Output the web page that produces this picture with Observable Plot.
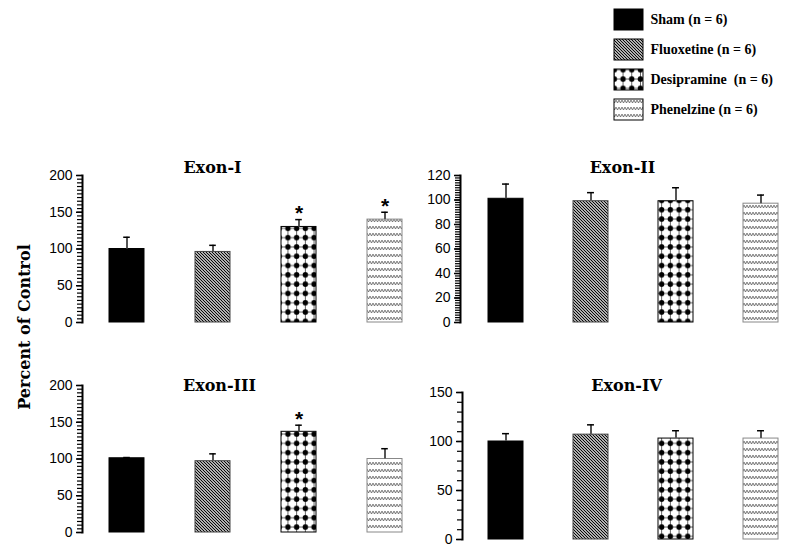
<!DOCTYPE html>
<html><head><meta charset="utf-8">
<script src="https://cdn.jsdelivr.net/npm/d3@7"></script>
<script src="https://cdn.jsdelivr.net/npm/@observablehq/plot@0.6"></script>
<style>
html,body{margin:0;padding:0;background:#fff;}
#root{position:relative;width:800px;height:549px;overflow:hidden;background:#fff;}
#root > .pane{position:absolute;}
#root svg{display:block;}
.ylab{position:absolute;left:24px;top:327px;transform:translate(-50%,-50%) rotate(-90deg);font:bold 16px "DejaVu Serif";white-space:nowrap;color:#000;}
</style></head>
<body>
<svg width="0" height="0" style="position:absolute">
<defs>
<pattern id="pat-fluox" patternUnits="userSpaceOnUse" width="3" height="3">
 <rect width="3" height="3" fill="white"/>
 <path d="M-1,-1 L4,4 M-1,2 L1,4 M2,-1 L4,1" stroke="black" stroke-width="1.2"/>
</pattern>
<pattern id="pat-desip" patternUnits="userSpaceOnUse" width="8.7" height="9.3">
 <rect width="8.7" height="9.3" fill="white"/>
 <path d="M0,4.65 H8.7 M4.35,0 V9.3" stroke="black" stroke-width="0.6"/>
 <circle cx="4.35" cy="4.65" r="2.7" fill="black"/>
</pattern>
<pattern id="pat-phen" patternUnits="userSpaceOnUse" width="3" height="7">
 <rect width="3" height="7" fill="white"/>
 <path d="M0,2 L1.5,5 L3,2" stroke="#666" stroke-width="0.9" fill="none"/>
</pattern>
</defs></svg>
<div id="root"><div class="ylab"></div></div>
<script>
// ---- data ----
const treatments = ["Sham", "Fluoxetine", "Desipramine", "Phenelzine"];
const legendLabels = ["Sham (n = 6)", "Fluoxetine (n = 6)", "Desipramine  (n = 6)", "Phenelzine (n = 6)"];
const exonTitles = ["Exon-I", "Exon-II", "Exon-III", "Exon-IV"];
const yLabel = "Percent of Control";

const exonIMean = [100, 96, 130, 140];
const exonIErr  = [16, 9, 10, 10];
const exonISig  = [false, false, true, true];

const exonIIMean = [101, 99, 99, 97];
const exonIIErr  = [12, 7, 11, 7];
const exonIISig  = [false, false, false, false];

const exonIIIMean = [101, 97, 137, 100];
const exonIIIErr  = [1, 10, 9, 14];
const exonIIISig  = [false, false, true, false];

const exonIVMean = [100, 107, 103, 103];
const exonIVErr  = [8, 10, 8, 8];
const exonIVSig  = [false, false, false, false];

const exonITicks   = [0, 50, 100, 150, 200];
const exonIITicks  = [0, 20, 40, 60, 80, 100, 120];
const exonIIITicks = [0, 50, 100, 150, 200];
const exonIVTicks  = [0, 50, 100, 150];

// ---- styles ----
const patternFills = ["black", "url(#pat-fluox)", "url(#pat-desip)", "url(#pat-phen)"];
const outlineColors = ["black", "#444", "black", "#888"];
const baseStyle = {background: "transparent", overflow: "visible", fontFamily: "'Liberation Sans', Arial, sans-serif", fontSize: "14px", color: "black"};
const colorScale = {type: "ordinal", domain: treatments, range: patternFills};

const root = document.getElementById("root");
root.querySelector(".ylab").textContent = yLabel;

function place(node, left, top) {
  const d = document.createElement("div");
  d.className = "pane";
  d.style.left = left + "px";
  d.style.top = top + "px";
  d.appendChild(node);
  root.appendChild(d);
}

function panel(cfg) {
  const data = treatments.map((t, i) => ({t, mean: cfg.mean[i], err: cfg.err[i], sig: cfg.sig[i]}));
  const pInner = 0.59;
  const step = (cfg.xr[1] - cfg.xr[0]) / treatments.length;
  const bw = step * (1 - pInner);
  const capInset = (bw - 7) / 2;
  const ymax = cfg.ticks[cfg.ticks.length - 1];
  const minor = d3.range(0, ymax + 0.001, cfg.minorStep);
  const frameW = cfg.w - cfg.ml;
  const minorLen = 5;
  return Plot.plot({
    width: cfg.w, height: cfg.h,
    marginLeft: cfg.ml, marginTop: cfg.mt, marginBottom: cfg.mb, marginRight: 0,
    x: {domain: treatments, range: cfg.xr, paddingInner: pInner, paddingOuter: pInner / 2, axis: null},
    y: {domain: [0, ymax], label: null},
    color: colorScale,
    style: baseStyle,
    marks: [
      Plot.barY(data, {x: "t", y: "mean", fill: "t"}),
      ...treatments.map((t, i) => Plot.barY(data.filter(d => d.t === t), {x: "t", y: "mean", fill: "none", stroke: outlineColors[i], strokeWidth: 1})),
      Plot.ruleX(data, {x: "t", y1: "mean", y2: d => d.mean + d.err, stroke: "#555", strokeWidth: 2}),
      Plot.tickY(data, {x: "t", y: d => d.mean + d.err, stroke: "black", strokeWidth: 1.5, insetLeft: capInset, insetRight: capInset}),
      Plot.text(data.filter(d => d.sig), {x: "t", y: d => d.mean + d.err, text: () => "*", dy: -6, fontSize: 21, fontWeight: "bold", fontFamily: "'Liberation Sans', Arial"}),
      // minor ticks on the y axis
      Plot.tickY(minor, {y: d => d, dx: -minorLen, insetRight: frameW - minorLen, stroke: "black", strokeWidth: 1.2}),
      Plot.axisY({ticks: cfg.ticks, tickSize: 6, tickPadding: 4, strokeWidth: 1.5}),
      Plot.frame({anchor: "left", strokeWidth: 2}),
      Plot.text([cfg.title], {frameAnchor: "top-left", textAnchor: "middle", dx: cfg.titleDx, dy: cfg.titleDy, fontFamily: "'DejaVu Serif', serif", fontWeight: "bold", fontSize: 16})
    ]
  });
}

place(panel({title: exonTitles[0], mean: exonIMean, err: exonIErr, sig: exonISig, ticks: exonITicks, minorStep: 5,
  w: 365, h: 200, ml: 42, mt: 35, mb: 18, xr: [42.8, 388.2], titleDx: 130, titleDy: -14}), 40, 140);
place(panel({title: exonTitles[1], mean: exonIIMean, err: exonIIErr, sig: exonIISig, ticks: exonIITicks, minorStep: 2,
  w: 395, h: 200, ml: 55, mt: 35, mb: 18, xr: [57.25, 399.25], titleDx: 162, titleDy: -14}), 405, 140);
place(panel({title: exonTitles[2], mean: exonIIIMean, err: exonIIIErr, sig: exonIIISig, ticks: exonIIITicks, minorStep: 5,
  w: 365, h: 194, ml: 42, mt: 30, mb: 17, xr: [42.8, 388.2], titleDx: 137, titleDy: -6}), 40, 355);
place(panel({title: exonTitles[3], mean: exonIVMean, err: exonIVErr, sig: exonIVSig, ticks: exonIVTicks, minorStep: 10,
  w: 395, h: 194, ml: 57, mt: 37, mb: 10, xr: [57.25, 399.25], titleDx: 164, titleDy: -13}), 405, 355);

// legend
const legend = Plot.plot({
  width: 190, height: 125, marginLeft: 4, marginRight: 157, marginTop: 0, marginBottom: 0,
  x: {domain: [0, 1], axis: null},
  y: {domain: treatments, range: [4, 124], paddingInner: 0.3, paddingOuter: 0.15, axis: null},
  color: colorScale,
  style: baseStyle,
  marks: [
    Plot.barX(treatments, {y: d => d, x: () => 1, fill: d => d, stroke: "black", strokeWidth: 1}),
    Plot.text(treatments, {y: d => d, text: (d, i) => legendLabels[i], frameAnchor: "right", textAnchor: "start", dx: 7,
      fontFamily: "'Liberation Serif', serif", fontWeight: "bold", fontSize: 14})
  ]
});
place(legend, 610, 0);
</script>
</body></html>
